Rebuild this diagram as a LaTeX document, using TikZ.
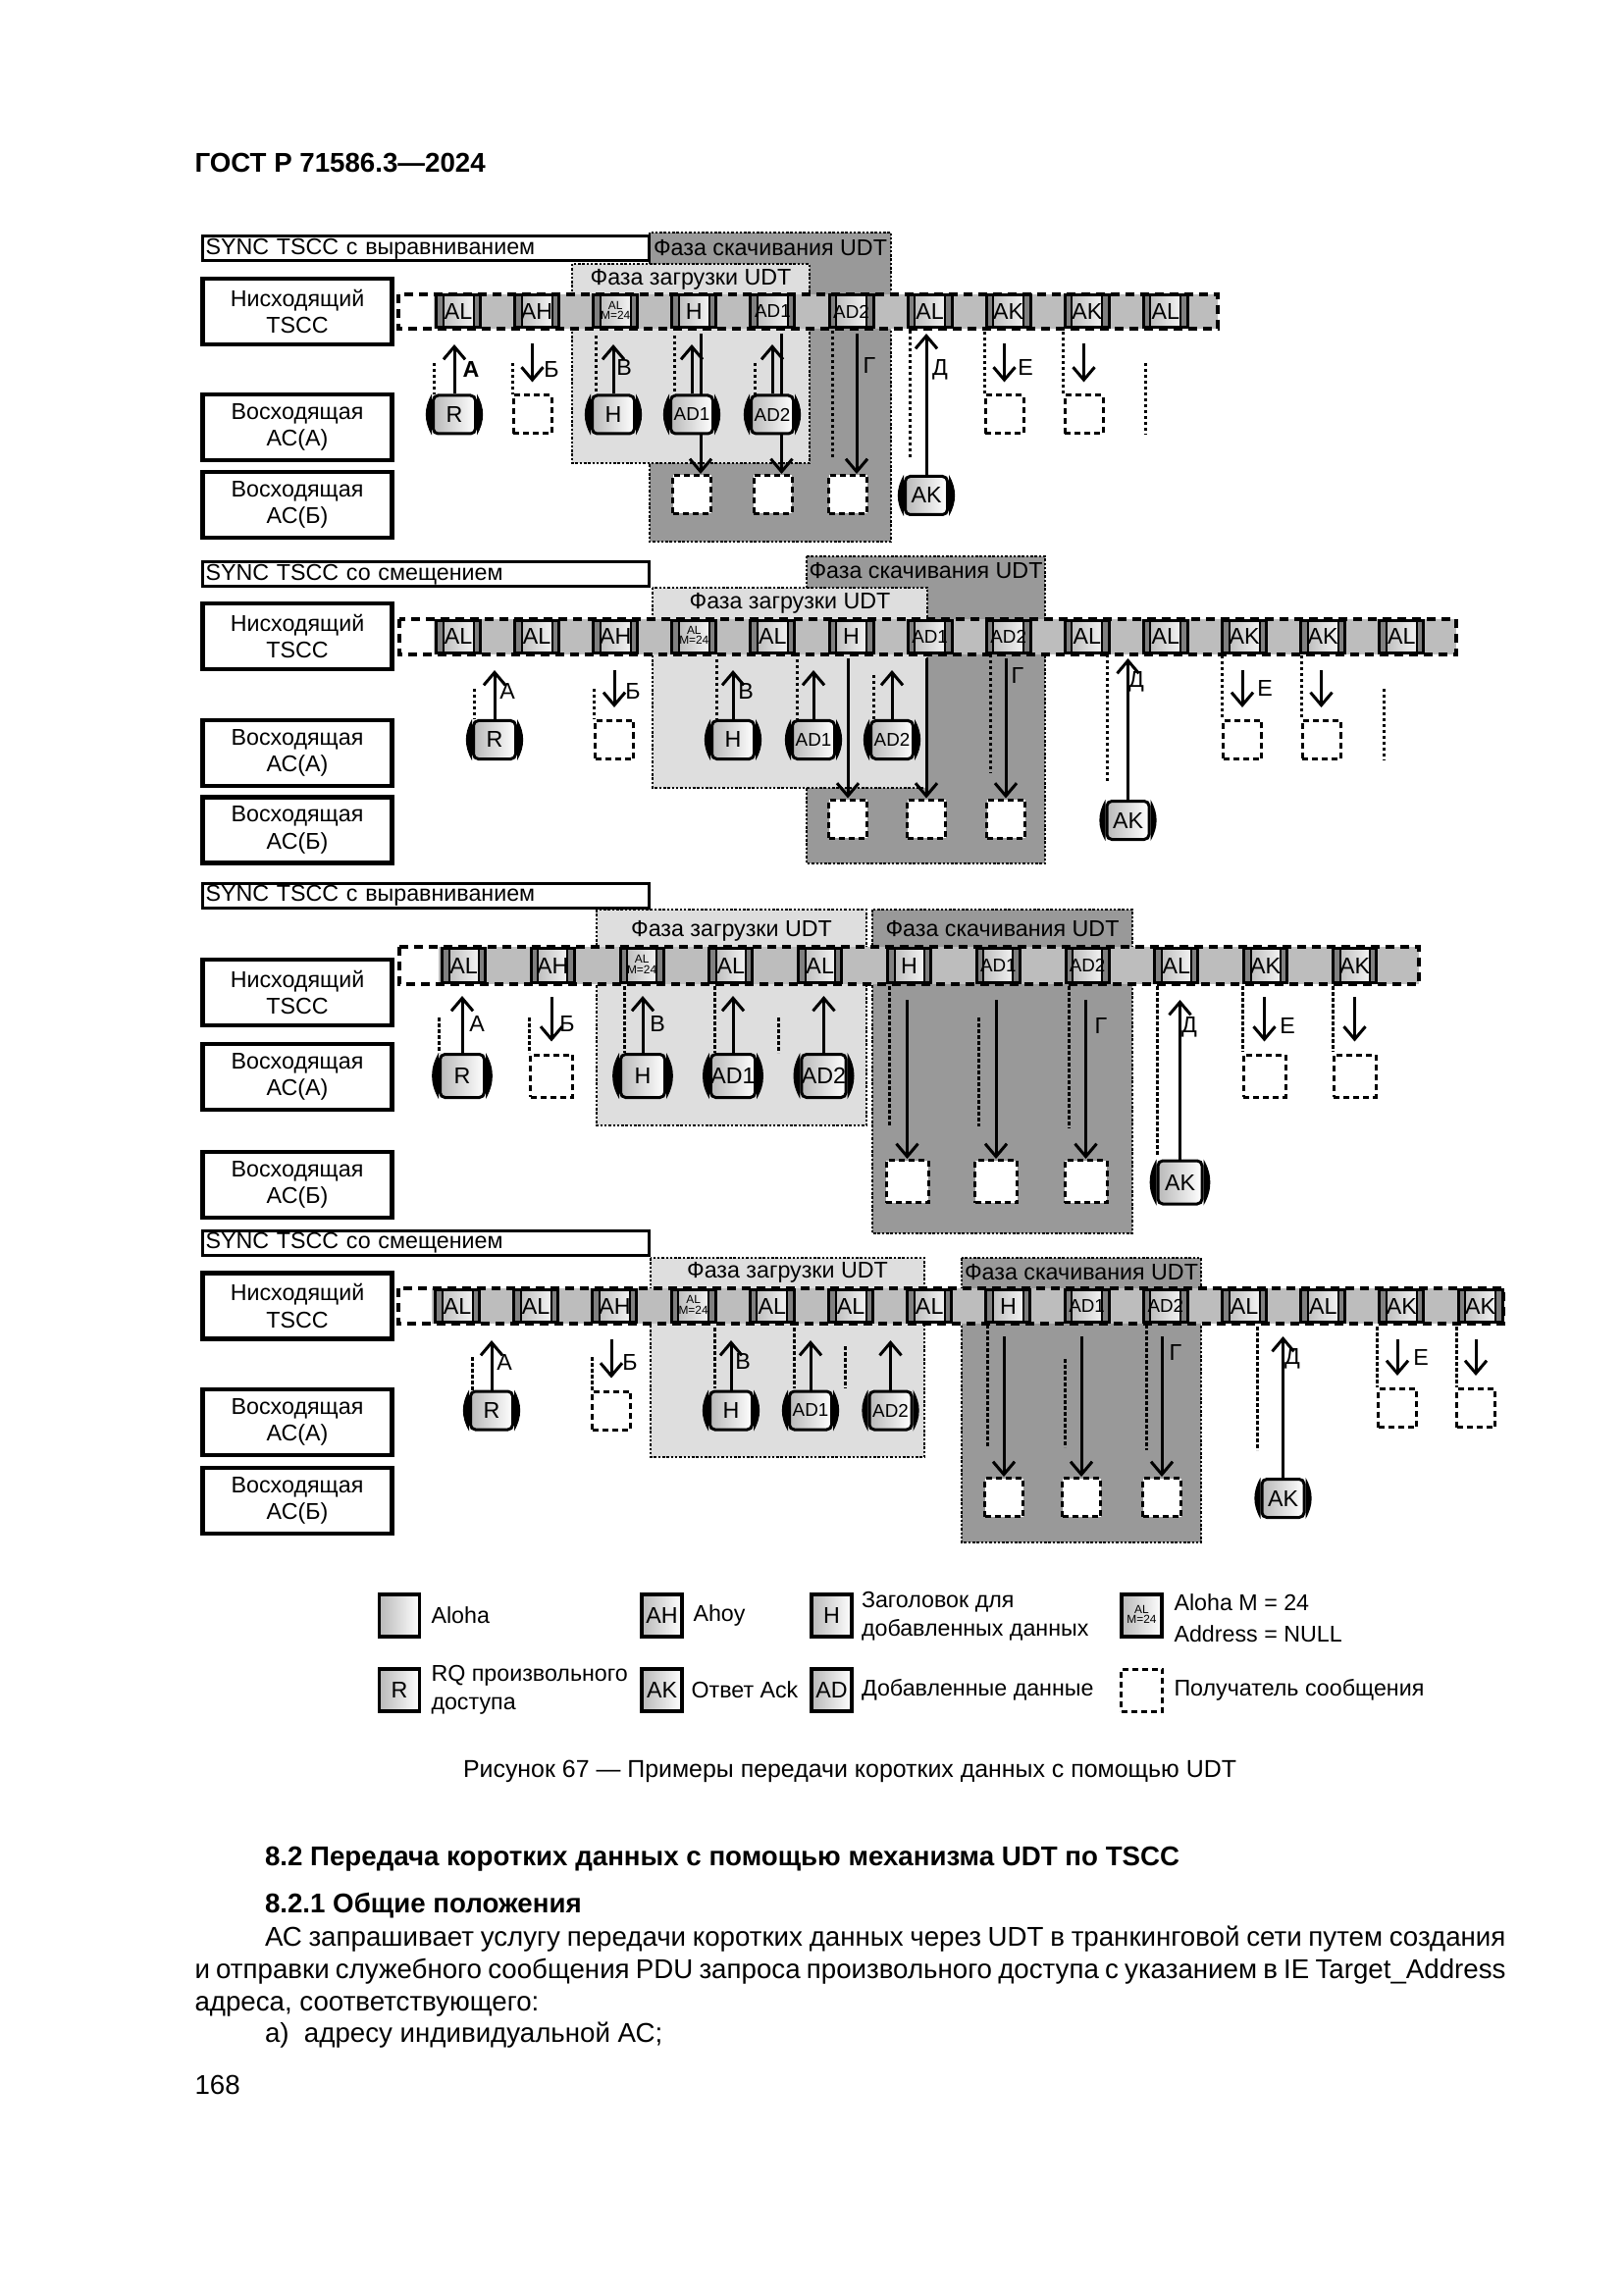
\documentclass[tikz,border=0pt]{standalone}
\usepackage{fontspec}
\setmainfont{Liberation Sans}
\usetikzlibrary{arrows.meta}
\newdimen\pxu
\pxu=0.12696mm
\definecolor{barfill}{gray}{0.74}
\definecolor{dlfill}{gray}{0.6}
\definecolor{ulfill}{gray}{0.87}
\definecolor{stripe}{gray}{0.5}

\begin{document}
\begin{tikzpicture}[x=0.12696mm,y=-0.12696mm,line width=3\pxu,
  lbl/.style={draw,line width=4.5\pxu,fill=white,minimum width=193\pxu,minimum height=67\pxu,inner sep=0pt,align=center,font=\dfont},
  sync/.style={draw,line width=3\pxu,fill=white,anchor=west,text width=449\pxu,inner xsep=3\pxu,inner ysep=0pt,minimum height=25\pxu,font=\dfont},
  hdr/.style={inner sep=0pt,font=\dfont},
  lt/.style={inner sep=0pt,font=\dfont},
  rb/.style={line width=2.8\pxu,dash pattern=on 2.5\pxu off 1.8\pxu},
  bard/.style={line width=4\pxu,dash pattern=on 9\pxu off 6\pxu},
  dl/.style={line width=3\pxu,dash pattern=on 3.5\pxu off 2.5\pxu},
  arr/.style={line width=3\pxu,-{Straight Barb[length=1.65mm,width=2.8mm]}},
  slot/.style={draw,line width=3\pxu,minimum width=45\pxu,minimum height=33\pxu,inner sep=0pt,font=\dfont,
    path picture={
      \shade[left color=gray!60,right color=white] (path picture bounding box.south west) rectangle (path picture bounding box.north east);
      \fill[stripe] (path picture bounding box.south west) rectangle ([xshift=6\pxu]path picture bounding box.north west);
      \fill[stripe] ([xshift=-6\pxu]path picture bounding box.south east) rectangle (path picture bounding box.north east);
      \draw[line width=2\pxu] ([xshift=7\pxu]path picture bounding box.south west) -- ([xshift=7\pxu]path picture bounding box.north west);
      \draw[line width=2\pxu] ([xshift=-7\pxu]path picture bounding box.south east) -- ([xshift=-7\pxu]path picture bounding box.north east);
    }},
  ms/.style={draw,line width=3\pxu,rounded corners=5\pxu,minimum width=43\pxu,minimum height=39\pxu,inner sep=0pt,
    left color=gray!55,right color=white,font=\dfont,
    append after command={
      (\tikzlastnode.north west) edge[draw=none,fill=black,bend right=30] (\tikzlastnode.south west)
      (\tikzlastnode.north east) edge[draw=none,fill=black,bend left=30] (\tikzlastnode.south east)}},
  rx/.style={draw,line width=3\pxu,dash pattern=on 6\pxu off 4\pxu,fill=white,minimum width=39\pxu,minimum height=39\pxu,inner sep=0pt},
  lg/.style={draw,line width=3.5\pxu,minimum width=41\pxu,minimum height=43\pxu,inner sep=0pt,left color=gray!55,right color=white,font=\dfont}]
\def\dfont{\fontsize{8.4}{10}\selectfont}
\def\sfont{\fontsize{6.8}{8}\selectfont}
\def\tfont{\fontsize{4.3}{5.2}\selectfont}
\def\bfont{\fontsize{10}{12}\selectfont}
\def\alm{\tfont\begin{tabular}{@{}c@{}}AL\\[-1.5pt]M=24\end{tabular}}
\def\sad#1{{\sfont AD#1}}
\fill[white] (0,0) rectangle (1654,2339);
\useasboundingbox (0,0) rectangle (1654,2339);

% колонтитул
\node[lt,anchor=base west,font=\bfseries\fontsize{10}{12}\selectfont] (gost) at (197,176) {ГОСТ Р 71586.3—2024};

% ---- 1: выравнивание ----
\draw[rb,fill=dlfill] (662,237) rectangle (908,552);
\draw[rb,fill=ulfill] (583,269) rectangle (825,472);
\node[hdr] (d1t) at (785,253) {Фаза скачивания UDT};
\node[hdr] (u1t) at (704,285) {Фаза загрузки UDT};
\node[sync] (sync1) at (205,253.5) {SYNC TSCC с выравниванием};
\node[lbl] (tscc1) at (303,317.5) {Нисходящий\\TSCC};
\node[lbl] (aca1) at (303,435.5) {Восходящая\\АС(А)};
\node[lbl] (acb1) at (303,514.5) {Восходящая\\АС(Б)};
\fill[barfill] (442,300) rectangle (1241,335);
\draw[bard] (406,300) rectangle (1241,335);
\foreach \lab [count=\i from 0] in {AL,AH,\alm,H,\sad1,\sad2,AL,AK,AK,AL}
  \node[slot] (s1-\i) at ({467+80.1*\i},317.5) {\lab};
\foreach \x/\ya/\yb in {442/370/402,522/370/402,607/342/402,687/342/402,769/370/402,848/337/468,927/337/468,1003/338/402,1083/338/402,1167/370/443}
  \draw[dl] (\x,\ya) -- (\x,\yb);
\coordinate (u1) at (0,351);
\coordinate (v1) at (0,340);
\coordinate (w1) at (0,350);
\node[rx] (xb1) at (542.5,422.5) {};
\node[rx] (xe1) at (1023.5,422.5) {};
\node[rx] (xf1) at (1104.5,422.5) {};
\node[rx] (x1a) at (705,504) {};
\node[rx] (x1b) at (787.5,504) {};
\node[rx] (x1c) at (864,504) {};
\path ([xshift=9\pxu]x1a.north) coordinate (q1a) ([xshift=9\pxu]x1b.north) coordinate (q1b) ([xshift=9\pxu]x1c.north) coordinate (q1c);
\draw[arr] (q1a |- v1) -- (q1a);
\draw[arr] (q1b |- v1) -- (q1b);
\draw[arr] (q1c |- v1) -- (q1c);
\node[ms] (r1) at (463,422.5) {R};
\node[ms] (h1) at (625,422.5) {H};
\node[ms,font=\sfont] (a1a) at (705,422.5) {AD1};
\node[ms,font=\sfont] (a1b) at (787,422.5) {AD2};
\node[ms] (k1) at (944,505) {AK};
\draw[arr] (r1.north) -- (r1.north |- u1);
\draw[arr] (h1.north) -- (h1.north |- u1);
\draw[arr] (a1a.north) -- (a1a.north |- u1);
\draw[arr] (a1b.north) -- (a1b.north |- u1);
\draw[arr] (k1.north) -- (k1.north |- v1);
\draw[arr] (xb1.north |- w1) -- ([yshift=12\pxu]xb1.north);
\draw[arr] (xe1.north |- w1) -- ([yshift=12\pxu]xe1.north);
\draw[arr] (xf1.north |- w1) -- ([yshift=12\pxu]xf1.north);
\node[lt] (la1) at (480,377) {\bfseries А};
\node[lt] (lb1) at (562,377) {Б};
\node[lt] (lv1) at (636,375) {В};
\node[lt] (lg1) at (886,373) {Г};
\node[lt] (ld1) at (958,377) {Д};
\node[lt] (le1) at (1045,375) {Е};

% ---- 2: смещение ----
\draw[rb,fill=dlfill] (822,567) rectangle (1065,880);
\draw[rb,fill=ulfill] (665,599) rectangle (945,803);
\node[hdr] (d2t) at (943.5,582) {Фаза скачивания UDT};
\node[hdr] (u2t) at (805,615) {Фаза загрузки UDT};
\node[sync] (sync2) at (205,585.5) {SYNC TSCC со смещением};
\node[lbl] (tscc2) at (303,648.5) {Нисходящий\\TSCC};
\node[lbl] (aca2) at (303,767.5) {Восходящая\\АС(А)};
\node[lbl] (acb2) at (303,846) {Восходящая\\АС(Б)};
\fill[barfill] (442,631) rectangle (1484,667);
\draw[bard] (407,631) rectangle (1484,667);
\foreach \lab [count=\i from 0] in {AL,AL,AH,\alm,AL,H,\sad1,\sad2,AL,AL,AK,AK,AL}
  \node[slot] (s2-\i) at ({467+80.1*\i},649) {\lab};
\foreach \x/\ya/\yb in {483/702/733,605/702/733,730.5/672/733,812/672/733,890/688/733,1009/667/788,1128/667/798,1245/668/733,1326/668/733,1410/702/775}
  \draw[dl] (\x,\ya) -- (\x,\yb);
\coordinate (u2) at (0,683);
\coordinate (v2) at (0,671);
\coordinate (w2) at (0,683);
\node[rx] (xb2) at (626,754) {};
\node[rx] (xe2) at (1266,754) {};
\node[rx] (xf2) at (1346.5,754) {};
\node[rx] (x2a) at (864,834.5) {};
\node[rx] (x2b) at (944,834.5) {};
\node[rx] (x2c) at (1025,834.5) {};
\draw[arr] (x2a.north |- v2) -- (x2a.north);
\draw[arr] (x2b.north |- v2) -- (x2b.north);
\draw[arr] (x2c.north |- v2) -- (x2c.north);
\node[ms] (r2) at (504,754) {R};
\node[ms] (h2) at (747,754) {H};
\node[ms,font=\sfont] (a2a) at (829,754) {AD1};
\node[ms,font=\sfont] (a2b) at (909,754) {AD2};
\node[ms] (k2) at (1149.5,836) {AK};
\draw[arr] (r2.north) -- (r2.north |- u2);
\draw[arr] (h2.north) -- (h2.north |- u2);
\draw[arr] (a2a.north) -- (a2a.north |- u2);
\draw[arr] (a2b.north) -- (a2b.north |- u2);
\draw[arr] (k2.north) -- (k2.north |- v2);
\draw[arr] (xb2.north |- w2) -- ([yshift=12\pxu]xb2.north);
\draw[arr] (xe2.north |- w2) -- ([yshift=12\pxu]xe2.north);
\draw[arr] (xf2.north |- w2) -- ([yshift=12\pxu]xf2.north);
\node[lt] (la2) at (517,705) {А};
\node[lt] (lb2) at (645,705) {Б};
\node[lt] (lv2) at (760,705) {В};
\node[lt] (lg2) at (1037,688) {Г};
\node[lt] (ld2) at (1158,695) {Д};
\node[lt] (le2) at (1289,702) {Е};

% ---- 3: выравнивание ----
\draw[rb,fill=dlfill] (889,927) rectangle (1154,1257);
\draw[rb,fill=ulfill] (608,927) rectangle (883,1147);
\node[hdr] (d3t) at (1021.5,947) {Фаза скачивания UDT};
\node[hdr] (u3t) at (745.5,949) {Фаза загрузки UDT};
\node[sync] (sync3) at (205,912.5) {SYNC TSCC с выравниванием};
\node[lbl] (tscc3) at (303,1011.5) {Нисходящий\\TSCC};
\node[lbl] (aca3) at (303,1097.5) {Восходящая\\АС(А)};
\node[lbl] (acb3) at (303,1207.5) {Восходящая\\АС(Б)};
\fill[barfill] (447,965) rectangle (1446,1003);
\draw[bard] (407,965) rectangle (1446,1003);
\foreach \lab [count=\i from 0] in {AL,AH,\alm,AL,AL,H,\sad1,\sad2,AL,AK,AK}
  \node[slot,minimum height=35\pxu,minimum width=44\pxu] (s3-\i) at ({472.5+90.8*\i},984) {\lab};
\foreach \x/\ya/\yb in {447/1037/1073,539/1037/1073,636/1005/1073,728/1005/1073,793.5/1037/1073,906/1005/1147,997/1037/1148,1089/1005/1150,1179/1005/1177,1266/1005/1072,1358/1005/1072}
  \draw[dl] (\x,\ya) -- (\x,\yb);
\coordinate (u3) at (0,1015);
\coordinate (v3) at (0,1019);
\coordinate (w3) at (0,1016);
\node[rx,minimum width=43\pxu,minimum height=43\pxu] (xb3) at (562,1096.5) {};
\node[rx,minimum width=43\pxu,minimum height=43\pxu] (xe3) at (1288.5,1096.5) {};
\node[rx,minimum width=43\pxu,minimum height=43\pxu] (xf3) at (1380.5,1096.5) {};
\node[rx,minimum width=43\pxu,minimum height=43\pxu] (x3a) at (924.5,1204) {};
\node[rx,minimum width=43\pxu,minimum height=43\pxu] (x3b) at (1015,1204) {};
\node[rx,minimum width=43\pxu,minimum height=43\pxu] (x3c) at (1106.5,1204) {};
\draw[arr] (x3a.north |- v3) -- (x3a.north);
\draw[arr] (x3b.north |- v3) -- (x3b.north);
\draw[arr] (x3c.north |- v3) -- (x3c.north);
\node[ms,minimum width=45\pxu,minimum height=44\pxu] (r3) at (471,1096.5) {R};
\node[ms,minimum width=45\pxu,minimum height=44\pxu] (h3) at (655,1096.5) {H};
\node[ms,minimum width=45\pxu,minimum height=44\pxu] (a3a) at (747,1096.5) {AD1};
\node[ms,minimum width=45\pxu,minimum height=44\pxu] (a3b) at (839.5,1096.5) {AD2};
\node[ms,minimum width=45\pxu,minimum height=44\pxu] (k3) at (1202.5,1205) {AK};
\draw[arr] (r3.north) -- (r3.north |- u3);
\draw[arr] (h3.north) -- (h3.north |- u3);
\draw[arr] (a3a.north) -- (a3a.north |- u3);
\draw[arr] (a3b.north) -- (a3b.north |- u3);
\draw[arr] (k3.north) -- (k3.north |- v3);
\draw[arr] (xb3.north |- w3) -- ([yshift=12\pxu]xb3.north);
\draw[arr] (xe3.north |- w3) -- ([yshift=12\pxu]xe3.north);
\draw[arr] (xf3.north |- w3) -- ([yshift=12\pxu]xf3.north);
\node[lt] (la3) at (486,1043) {А};
\node[lt] (lb3) at (578,1043) {Б};
\node[lt] (lv3) at (670,1043) {В};
\node[lt] (lg3) at (1122,1045) {Г};
\node[lt] (ld3) at (1212,1047) {Д};
\node[lt] (le3) at (1312,1045) {Е};

% ---- 4: смещение ----
\draw[rb,fill=dlfill] (980,1282) rectangle (1224,1572);
\draw[rb,fill=ulfill] (663,1282) rectangle (942,1485);
\node[hdr] (d4t) at (1102,1297) {Фаза скачивания UDT};
\node[hdr] (u4t) at (802.5,1297) {Фаза загрузки UDT};
\node[sync] (sync4) at (205,1267) {SYNC TSCC со смещением};
\node[lbl] (tscc4) at (303,1331) {Нисходящий\\TSCC};
\node[lbl] (aca4) at (303,1449.5) {Восходящая\\АС(А)};
\node[lbl] (acb4) at (303,1529.5) {Восходящая\\АС(Б)};
\fill[barfill] (440,1313) rectangle (1532,1349);
\draw[bard] (406,1313) rectangle (1532,1349);
\foreach \lab [count=\i from 0] in {AL,AL,AH,\alm,AL,AL,AL,H,\sad1,\sad2,AL,AL,AK,AK}
  \node[slot] (s4-\i) at ({466+80.2*\i},1331) {\lab};
\foreach \x/\ya/\yb in {481/1383/1417,603/1383/1417,728/1353/1415,809.5/1353/1415,861/1372/1415,1006/1350/1475,1085.7/1385/1475,1168/1350/1478,1281/1352/1478,1403/1352/1414,1484/1352/1414}
  \draw[dl] (\x,\ya) -- (\x,\yb);
\coordinate (u4) at (0,1366);
\coordinate (v4) at (0,1362);
\coordinate (w4) at (0,1365);
\node[rx] (xb4) at (623,1437.5) {};
\node[rx] (xe4) at (1424,1435) {};
\node[rx] (xf4) at (1504,1435) {};
\node[rx] (x4a) at (1023,1526) {};
\node[rx] (x4b) at (1102,1526) {};
\node[rx] (x4c) at (1184,1526) {};
\draw[arr] (x4a.north |- v4) -- (x4a.north);
\draw[arr] (x4b.north |- v4) -- (x4b.north);
\draw[arr] (x4c.north |- v4) -- (x4c.north);
\node[ms] (r4) at (501,1437.5) {R};
\node[ms] (h4) at (745,1437.5) {H};
\node[ms,font=\sfont] (a4a) at (826,1437.5) {AD1};
\node[ms,font=\sfont] (a4b) at (907.5,1437.5) {AD2};
\node[ms] (k4) at (1307.5,1527) {AK};
\draw[arr] (r4.north) -- (r4.north |- u4);
\draw[arr] (h4.north) -- (h4.north |- u4);
\draw[arr] (a4a.north) -- (a4a.north |- u4);
\draw[arr] (a4b.north) -- (a4b.north |- u4);
\draw[arr] (k4.north) -- (k4.north |- v4);
\draw[arr] (xb4.north |- w4) -- ([yshift=12\pxu]xb4.north);
\draw[arr] (xe4.north |- w4) -- ([yshift=12\pxu]xe4.north);
\draw[arr] (xf4.north |- w4) -- ([yshift=12\pxu]xf4.north);
\node[lt] (la4) at (514,1388) {А};
\node[lt] (lb4) at (642,1388) {Б};
\node[lt] (lv4) at (757,1387) {В};
\node[lt] (lg4) at (1198,1378) {Г};
\node[lt] (ld4) at (1317,1385) {Д};
\node[lt] (le4) at (1448,1383) {Е};

% ---- легенда ----
\node[lg] (k-al) at (407,1646.5) {};
\node[lg] (k-ah) at (674.5,1646.5) {AH};
\node[lg] (k-h) at (847.5,1646.5) {H};
\node[lg] (k-alm) at (1163.5,1646.5) {\alm};
\node[lg] (k-r) at (407,1722.5) {R};
\node[lg] (k-ak) at (674.5,1722.5) {AK};
\node[lg] (k-ad) at (847.5,1722.5) {AD};
\node[rx,minimum width=42\pxu,minimum height=43\pxu] (k-rx) at (1163.5,1722.5) {};
\node[lt,anchor=west] (t-al) at (438,1646.5) {Aloha};
\node[lt,anchor=west] (t-ah) at (705,1646.5) {Ahoy};
\node[lt,anchor=west,align=left,font=\fontsize{8.4}{10.5}\selectfont] (t-h) at (876.5,1647.5) {Заголовок для\\добавленных данных};
\node[lt,anchor=west,align=left,font=\fontsize{8.4}{11.5}\selectfont] (t-alm) at (1195,1649) {Aloha M = 24\\Address = NULL};
\node[lt,anchor=west,align=left,font=\fontsize{8.4}{10.5}\selectfont] (t-r) at (438,1722.5) {RQ произвольного\\доступа};
\node[lt,anchor=west] (t-ak) at (703,1722.5) {Ответ Ack};
\node[lt,anchor=west] (t-ad) at (876.5,1722.5) {Добавленные данные};
\node[lt,anchor=west] (t-rx) at (1195,1722.5) {Получатель сообщения};

% ---- подпись и текст ----
\node[lt,anchor=base,font=\fontsize{9}{11}\selectfont] (cap) at (866,1811) {Рисунок 67 — Примеры передачи коротких данных с помощью UDT};
\node[lt,anchor=base west,font=\bfseries\bfont] (sec) at (268.5,1901) {8.2 Передача коротких данных с помощью механизма UDT по TSCC};
\node[lt,anchor=base west,font=\bfseries\bfont] (subsec) at (268.5,1949) {8.2.1 Общие положения};
\node[lt,anchor=base west,font=\bfont] (par1) at (268.5,1983) {\makebox[1264.5\pxu][s]{АС запрашивает услугу передачи коротких данных через UDT в транкинговой сети путем создания}};
\node[lt,anchor=base west,font=\bfont] (par2) at (197,2016) {\makebox[1336\pxu][s]{и отправки служебного сообщения PDU запроса произвольного доступа с указанием в IE Target\_Address}};
\node[lt,anchor=base west,font=\bfont] (par3) at (197,2049) {адреса, соответствующего:};
\node[lt,anchor=base west,font=\bfont] (par4) at (268.5,2081) {а)~~адресу индивидуальной АС;};
\node[lt,anchor=base west,font=\bfont] (page) at (197,2134) {168};
\end{tikzpicture}
\end{document}
